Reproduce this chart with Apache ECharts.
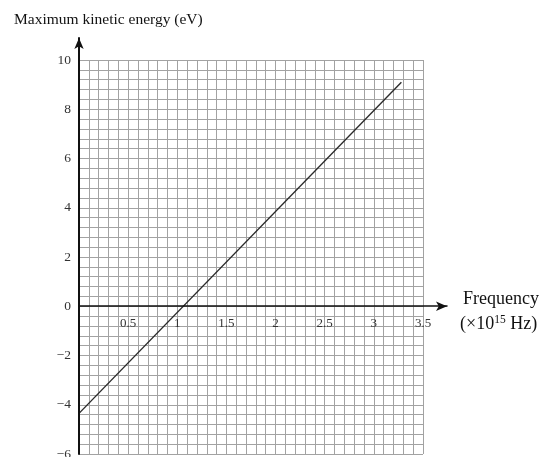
<!DOCTYPE html>
<html>
<head>
<meta charset="utf-8">
<script src="https://cdn.jsdelivr.net/npm/echarts@6/dist/echarts.min.js"></script>
<style>html,body{margin:0;padding:0;background:#fff}#c{width:544px;height:457px}</style>
</head>
<body>
<div id="c"></div>
<script>
var xTicks = [0, 0.5, 1, 1.5, 2, 2.5, 3, 3.5];
var yTicks = [-6, -4, -2, 0, 2, 4, 6, 8, 10];
var lineX = [0, 3.28];
var lineY = [-4.35, 9.1];
var yTitle = 'Maximum kinetic energy (eV)';
var xTitle1 = 'Frequency';
var xTitle2 = '(×10{s|15} Hz)';

var FONT = '"Liberation Serif","DejaVu Serif",serif';
var chart = echarts.init(document.getElementById('c'), null, {renderer: 'canvas'});
var data = lineX.map(function (x, i) { return [x, lineY[i]]; });
var xMax = xTicks[xTicks.length - 1];
var yMin = yTicks[0], yMax = yTicks[yTicks.length - 1];

// layout
var GT = 60, GH = 394;
var zeroOffset = -(GH * (0 - yMin) / (yMax - yMin));

var gridLine = {show: true, lineStyle: {color: '#a2a2a2', width: 1}};
chart.setOption({
  animation: false,
  backgroundColor: '#fff',
  title: [
    {text: yTitle, left: 9, top: 7, textStyle: {fontFamily: FONT, fontSize: 15.5, fontWeight: 'normal', color: '#111'}},
    {text: xTitle1, left: 458, top: 285, textStyle: {fontFamily: FONT, fontSize: 18, fontWeight: 'normal', color: '#111'}},
    {text: xTitle2, left: 455, top: 309, textStyle: {fontFamily: FONT, fontSize: 18, fontWeight: 'normal', color: '#111',
      rich: {s: {fontFamily: FONT, fontSize: 11.5, verticalAlign: 'top', padding: [0, 0, 8, 0], color: '#111'}}}}
  ],
  grid: [
    {left: 79, top: GT, width: 344, height: GH, containLabel: false, outerBoundsMode: 'none'},
    {left: 79, top: 38, width: 368, height: 416, containLabel: false, outerBoundsMode: 'none'}
  ],
  xAxis: [
    {type: 'value', gridIndex: 0, min: xTicks[0], max: xMax, interval: 0.5,
      position: 'bottom', offset: zeroOffset,
      axisLine: {show: false, onZero: false},
      axisTick: {show: false},
      minorTick: {show: false, splitNumber: 5},
      splitLine: gridLine, minorSplitLine: gridLine,
      axisLabel: {show: true, showMinLabel: false, margin: 11, fontFamily: FONT, fontSize: 13, color: '#333'}},
    {type: 'value', gridIndex: 1, min: 0, max: 3.744,
      axisLine: {show: true, onZero: true, symbol: ['none', 'arrow'], symbolSize: [7, 11], lineStyle: {color: '#111', width: 1.5}},
      axisTick: {show: false}, splitLine: {show: false}, z: 5, axisLabel: {show: false}}
  ],
  yAxis: [
    {type: 'value', gridIndex: 0, min: yMin, max: yMax, interval: 2,
      axisLine: {show: false},
      axisTick: {show: false},
      minorTick: {show: false, splitNumber: 5},
      splitLine: gridLine, minorSplitLine: gridLine,
      axisLabel: {show: true, margin: 8, fontFamily: FONT, fontSize: 13.5, color: '#333',
        formatter: function (v) { return v < 0 ? '\u2212' + Math.abs(v) : String(v); }}},
    {type: 'value', gridIndex: 1, min: -6, max: 10.893,
      axisLine: {show: true, onZero: false, symbol: ['none', 'arrow'], symbolSize: [7, 11], lineStyle: {color: '#111', width: 2}},
      axisTick: {show: false}, axisLabel: {show: false}, splitLine: {show: false}, z: 5}
  ],
  series: [{
    type: 'line', xAxisIndex: 0, yAxisIndex: 0, data: data, showSymbol: false, symbol: 'none',
    lineStyle: {color: '#2a2a2a', width: 1.4}, z: 3
  }]
});
</script>
</body>
</html>
